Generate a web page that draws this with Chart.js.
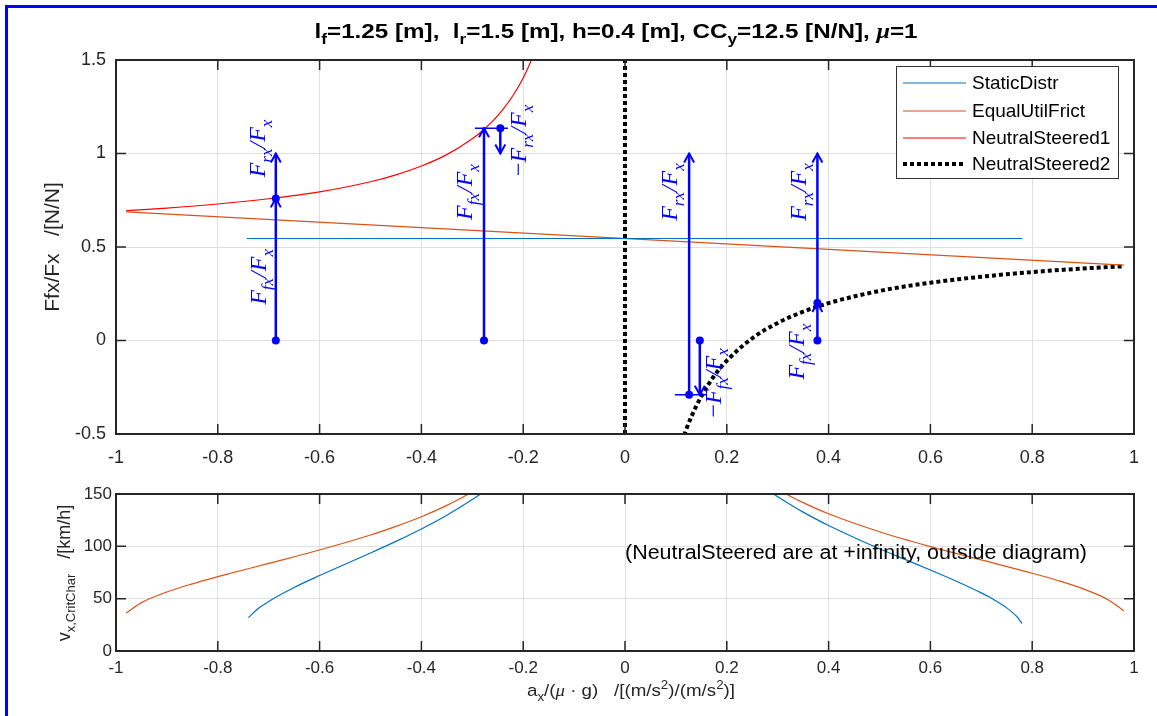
<!DOCTYPE html>
<html lang="en">
<head>
<meta charset="UTF-8">
<title>Neutral steered force distribution</title>
<script src="https://cdn.jsdelivr.net/npm/chart.js@4.4.0/dist/chart.umd.min.js"></script>
<style>
  body { margin: 0; background: #fff; }
  #wrap { position: relative; width: 1157px; height: 716px; background: #fff; overflow: hidden; }
  #frame { position: absolute; left: 5px; top: 5px; right: 0; bottom: 0; border-left: 3px solid #0000ff; border-top: 3px solid #0000ff; pointer-events: none; }
  canvas { position: absolute; left: 0; }
  #topChart { top: 0; }
  #botChart { top: 470px; }
</style>
</head>
<body>
<div id="wrap">
  <canvas id="topChart" width="1157" height="470"></canvas>
  <canvas id="botChart" width="1157" height="246"></canvas>
  <div id="frame"></div>
</div>
<script>
// ---- top diagram: Ffx/Fx versus ax/(mu g) ----
const staticAx = [-0.743, 0.78];
const staticVal = [0.5455, 0.5455];
const equalAx = [-0.98, 0.98];
const equalVal = [0.688, 0.403];
const ns1Ax = [-0.98, -0.9, -0.8, -0.7, -0.6, -0.5, -0.45, -0.4, -0.35, -0.3, -0.28, -0.26, -0.24, -0.22, -0.2, -0.19, -0.18, -0.17];
const ns1Val = [0.694, 0.708, 0.730, 0.758, 0.795, 0.849, 0.886, 0.933, 0.994, 1.079, 1.122, 1.173, 1.235, 1.310, 1.404, 1.461, 1.526, 1.602];
const ns2Ax = [0.10, 0.11, 0.12, 0.13, 0.15, 0.175, 0.2, 0.25, 0.3, 0.35, 0.4, 0.5, 0.6, 0.7, 0.8, 0.9, 0.98];
const ns2Val = [-0.651, -0.558, -0.478, -0.410, -0.298, -0.190, -0.108, 0.012, 0.094, 0.154, 0.200, 0.265, 0.309, 0.341, 0.366, 0.385, 0.397];
const zeroLineAx = [0, 0];
const zeroLineVal = [-0.5, 1.5];

// force arrows: x position, start value, end value
const arrowX    = [-0.686, -0.686, -0.277, -0.245, 0.126, 0.147, 0.378, 0.378];
const arrowFrom = [0,      0.76,   0,      1.135,  -0.29, 0,     0,     0.2];
const arrowTo   = [0.76,   1.0,    1.135,  1.0,    1.0,   -0.29, 0.2,   1.0];
// short horizontal marks where arrows meet
const markY  = [1.135, -0.29];
const markX0 = [-0.295, 0.098];
const markX1 = [-0.230, 0.161];
// arrow labels
const labX   = [-0.715, -0.713, -0.308, -0.202, 0.094, 0.181, 0.348, 0.344];
const labY   = [1.027, 0.34, 0.794, 1.07, 0.794, -0.227, 0.794, -0.06];
const labSub = ['rx', 'fx', 'fx', 'rx', 'rx', 'fx', 'rx', 'fx'];
const labNeg = [false, false, false, true, false, true, false, false];

const legendNames = ['StaticDistr', 'EqualUtilFrict', 'NeutralSteered1', 'NeutralSteered2'];
const xTickVals = [-1, -0.8, -0.6, -0.4, -0.2, 0, 0.2, 0.4, 0.6, 0.8, 1];
const yTickTop = [-0.5, 0, 0.5, 1, 1.5];

// ---- bottom diagram: vx,CritChar [km/h] ----
const vStatLeftAx = [-0.74, -0.72, -0.7, -0.65, -0.6, -0.55, -0.5, -0.45, -0.4, -0.35, -0.3, -0.28];
const vStatLeft   = [31.9, 40.8, 47.4, 60.7, 72.1, 82.9, 93.6, 104.7, 116.6, 129.7, 144.7, 151.4];
const vStatRightAx = [0.29, 0.3, 0.35, 0.4, 0.45, 0.5, 0.55, 0.6, 0.65, 0.7, 0.72, 0.75, 0.77, 0.78];
const vStatRight   = [150.6, 147.4, 132.7, 119.9, 108.5, 97.7, 87.5, 77.4, 66.9, 55.5, 50.3, 41.2, 32.8, 26.4];
const vEqLeftAx = [-0.98, -0.95, -0.9, -0.85, -0.8, -0.7, -0.6, -0.5, -0.45, -0.4, -0.35, -0.31, -0.3];
const vEqLeft   = [36.2, 46.2, 56.4, 64.2, 71.0, 83.7, 96.5, 110.8, 119.1, 128.3, 139.1, 149.3, 152.1];
const vEqRightAx = [0.3, 0.32, 0.35, 0.4, 0.5, 0.6, 0.7, 0.8, 0.85, 0.9, 0.95, 0.98];
const vEqRight   = [154.5, 149.1, 141.8, 131.1, 113.9, 99.7, 87.0, 74.3, 67.4, 59.4, 48.8, 38.3];
const yTickBot = [0, 50, 100, 150];
const noteText = '(NeutralSteered are at +infinity, outside diagram)';

const BLUE = '#0072BD', ORANGE = '#D95319', RED = '#FF0000', ARROW = '#0000ff', AXIS = '#262626';
const SANS = '"Liberation Sans", Arial, sans-serif';
const SERIF = '"Liberation Serif", "Times New Roman", serif';

function pts(xs, ys) { return xs.map((v, i) => ({ x: v, y: ys[i] })); }

function line(data, color, width, extra) {
  return Object.assign({ data: data, borderColor: color, backgroundColor: color, borderWidth: width,
    pointRadius: 0, showLine: true, fill: false, tension: 0, order: 2 }, extra || {});
}

// text with sub/superscripts; parts = [{t, sub, sup, it, fam}]
// o.width stretches the run horizontally to a given length
function drawParts(ctx, parts, x, y, o) {
  const sz = o.size;
  const fontOf = p => (p.it ? 'italic ' : '') + (o.weight || 'normal') + ' ' +
    ((p.sub || p.sup) ? Math.round(sz * 0.72) : sz) + 'px ' + (p.fam || o.family);
  let w = 0;
  parts.forEach(p => { ctx.font = fontOf(p); p.w = ctx.measureText(p.t).width; w += p.w; });
  ctx.save();
  ctx.translate(x, y);
  if (o.rotate) ctx.rotate(-Math.PI / 2);
  if (o.width) ctx.scale(o.width / w, 1);
  let cx = o.align === 'left' ? 0 : -w / 2;
  ctx.fillStyle = o.color;
  ctx.textBaseline = 'alphabetic';
  ctx.textAlign = 'left';
  parts.forEach(p => {
    ctx.font = fontOf(p);
    const dy = p.sub ? sz * 0.28 : (p.sup ? -sz * 0.4 : 0);
    ctx.fillText(p.t, cx, (o.base || 0) + dy);
    cx += p.w;
  });
  ctx.restore();
}

function drawBox(chart, xv, yv) {
  const { ctx, chartArea: a, scales } = chart;
  ctx.save();
  ctx.strokeStyle = AXIS;
  ctx.lineWidth = 1.5;
  ctx.beginPath();
  xv.forEach(v => {
    const p = scales.x.getPixelForValue(v);
    ctx.moveTo(p, a.bottom); ctx.lineTo(p, a.bottom - 10);
    ctx.moveTo(p, a.top); ctx.lineTo(p, a.top + 10);
  });
  yv.forEach(v => {
    const p = scales.y.getPixelForValue(v);
    ctx.moveTo(a.left, p); ctx.lineTo(a.left + 10, p);
    ctx.moveTo(a.right, p); ctx.lineTo(a.right - 10, p);
  });
  ctx.stroke();
  ctx.lineWidth = 2;
  ctx.strokeRect(a.left, a.top, a.right - a.left, a.bottom - a.top);
  ctx.restore();
}

function fmt(v) { return String(Math.round(v * 10) / 10); }

function axisOpts(min, max, step, fontSize, pad, fit) {
  return {
    type: 'linear', min: min, max: max,
    ticks: { stepSize: step, color: AXIS, padding: pad, font: { family: SANS, size: fontSize }, callback: fmt, maxRotation: 0, autoSkip: false },
    grid: { color: '#dfdfdf', lineWidth: 1, drawTicks: false },
    border: { display: false },
    afterFit: fit
  };
}

// ---- top chart ----
const topDatasets = [
  line(pts(staticAx, staticVal), BLUE, 1.2),
  line(pts(equalAx, equalVal), ORANGE, 1.2),
  line(pts(ns1Ax, ns1Val), RED, 1.2, { cubicInterpolationMode: 'monotone' }),
  line(pts(ns2Ax, ns2Val), '#000', 4, { borderDash: [4, 3], cubicInterpolationMode: 'monotone' }),
  line(pts(zeroLineAx, zeroLineVal), '#000', 4, { borderDash: [4, 3] })
];
arrowX.forEach((ax, i) => {
  topDatasets.push(line([{ x: ax, y: arrowFrom[i] }, { x: ax, y: arrowTo[i] }], ARROW, 2.5,
    { pointRadius: [4, 0], pointBorderWidth: 0, order: 0 }));
});
markY.forEach((my, i) => {
  topDatasets.push(line([{ x: markX0[i], y: my }, { x: markX1[i], y: my }], ARROW, 1.5, { order: 1 }));
});

const topDecor = {
  id: 'topDecor',
  afterDatasetsDraw(chart) {
    const { ctx, scales: { x, y } } = chart;
    ctx.save();
    ctx.strokeStyle = ARROW;
    ctx.lineWidth = 2;
    arrowX.forEach((ax, i) => {
      const px = x.getPixelForValue(ax), py = y.getPixelForValue(arrowTo[i]);
      const dir = arrowTo[i] > arrowFrom[i] ? 1 : -1;
      ctx.beginPath();
      ctx.moveTo(px - 5, py + dir * 9);
      ctx.lineTo(px, py);
      ctx.lineTo(px + 5, py + dir * 9);
      ctx.stroke();
    });
    ctx.restore();
    labX.forEach((lx, i) => {
      const parts = [];
      if (labNeg[i]) parts.push({ t: '\u2212' });
      parts.push({ t: 'F', it: true }, { t: labSub[i], it: true, sub: true }, { t: '/', it: true },
                 { t: 'F', it: true }, { t: 'x', it: true, sub: true });
      drawParts(ctx, parts, x.getPixelForValue(lx), y.getPixelForValue(labY[i]),
        { size: 24, family: SERIF, color: ARROW, rotate: true, base: 4 });
    });
  },
  afterDraw(chart) {
    const ctx = chart.ctx;
    drawBox(chart, xTickVals, yTickTop);
    // legend
    ctx.save();
    ctx.fillStyle = '#fff';
    ctx.fillRect(896, 66, 222, 112);
    ctx.strokeStyle = '#333';
    ctx.lineWidth = 1;
    ctx.strokeRect(896.5, 66.5, 222, 112);
    const rows = [83, 111, 138, 164];
    legendNames.forEach((name, i) => {
      const ds = chart.data.datasets[i];
      ctx.strokeStyle = ds.borderColor;
      ctx.lineWidth = ds.borderWidth;
      ctx.setLineDash(ds.borderDash || []);
      ctx.beginPath();
      ctx.moveTo(903, rows[i]);
      ctx.lineTo(966, rows[i]);
      ctx.stroke();
      ctx.setLineDash([]);
      ctx.fillStyle = '#000';
      ctx.font = '19px ' + SANS;
      ctx.textBaseline = 'middle';
      ctx.fillText(name, 972, rows[i] + 1);
    });
    ctx.restore();
    // title
    drawParts(ctx, [
      { t: 'l' }, { t: 'f', sub: true }, { t: '=1.25 [m],  l' }, { t: 'r', sub: true },
      { t: '=1.5 [m], h=0.4 [m], CC' }, { t: 'y', sub: true }, { t: '=12.5 [N/N], ' },
      { t: '\u03bc', it: true, fam: SERIF }, { t: '=1' }
    ], 616, 38, { size: 21, family: SANS, weight: 'bold', color: '#000', width: 603 });
    // y label
    drawParts(ctx, [{ t: 'Ffx/Fx   /[N/N]' }], 52, 247,
      { size: 21, family: SANS, color: AXIS, rotate: true, base: 7 });
  }
};

new Chart(document.getElementById('topChart'), {
  type: 'scatter',
  data: { datasets: topDatasets },
  options: {
    responsive: false, animation: false, devicePixelRatio: 1,
    layout: { padding: { left: 0, right: 23, top: 60, bottom: 0 } },
    plugins: { legend: { display: false }, tooltip: { enabled: false } },
    scales: {
      x: axisOpts(-1, 1, 0.2, 18, 13, s => { s.height = 36; }),
      y: axisOpts(-0.5, 1.5, 0.5, 18, 10, s => { s.width = 116; })
    }
  },
  plugins: [topDecor]
});

// ---- bottom chart ----
const botDecor = {
  id: 'botDecor',
  afterDatasetsDraw(chart) {
    const { ctx, scales: { x, y } } = chart;
    drawParts(ctx, [{ t: noteText }], x.getPixelForValue(0), y.getPixelForValue(94.6) + 7,
      { size: 20, family: SANS, color: '#000', align: 'left', width: 462 });
  },
  afterDraw(chart) {
    const ctx = chart.ctx;
    drawBox(chart, xTickVals, yTickBot);
    drawParts(ctx, [{ t: 'v' }, { t: 'x,CritChar', sub: true }, { t: '   /[km/h]' }], 67, 103,
      { size: 18, family: SANS, color: AXIS, rotate: true, base: 3 });
    drawParts(ctx, [
      { t: 'a' }, { t: 'x', sub: true }, { t: '/(' }, { t: '\u03bc', it: true, fam: SERIF },
      { t: ' \u00b7 g)   /[(m/s' }, { t: '2', sup: true }, { t: ')/(m/s' }, { t: '2', sup: true }, { t: ')]' }
    ], 631, 226, { size: 17, family: SANS, color: AXIS, width: 208 });
  }
};

new Chart(document.getElementById('botChart'), {
  type: 'scatter',
  data: {
    datasets: [
      line(pts(vStatLeftAx, vStatLeft), BLUE, 1.2, { cubicInterpolationMode: 'monotone' }),
      line(pts(vStatRightAx, vStatRight), BLUE, 1.2, { cubicInterpolationMode: 'monotone' }),
      line(pts(vEqLeftAx, vEqLeft), ORANGE, 1.2, { cubicInterpolationMode: 'monotone' }),
      line(pts(vEqRightAx, vEqRight), ORANGE, 1.2, { cubicInterpolationMode: 'monotone' })
    ]
  },
  options: {
    responsive: false, animation: false, devicePixelRatio: 1,
    layout: { padding: { left: 0, right: 23, top: 24, bottom: 0 } },
    plugins: { legend: { display: false }, tooltip: { enabled: false } },
    scales: {
      x: axisOpts(-1, 1, 0.2, 17, 7, s => { s.height = 65; }),
      y: axisOpts(0, 150, 50, 17, 4, s => { s.width = 116; })
    }
  },
  plugins: [botDecor]
});
</script>
</body>
</html>
